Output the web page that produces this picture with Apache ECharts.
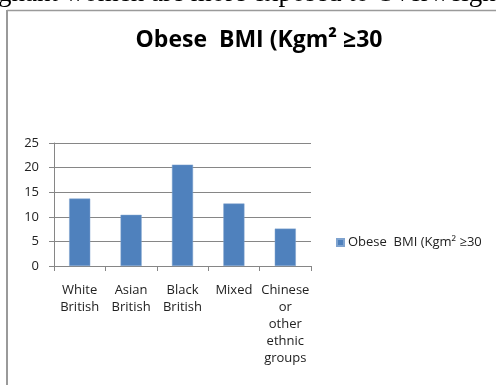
<!DOCTYPE html>
<html>
<head>
<meta charset="utf-8">
<script src="https://cdn.jsdelivr.net/npm/echarts@6/dist/echarts.min.js"></script>
<style>
  html, body { margin: 0; padding: 0; background: #fff; }
  #chart { width: 496px; height: 385px; }
</style>
</head>
<body>
<div id="chart"></div>
<script>
// Obesity (BMI >= 30) share by ethnic group
const categories = ['White\nBritish', 'Asian\nBritish', 'Black\nBritish', 'Mixed', 'Chinese\nor\nother\nethnic\ngroups'];
const obeseValues = [13.7, 10.4, 20.6, 12.7, 7.6];
const seriesName = 'Obese  BMI (Kgm\u00B2 \u226530';
const yTicks = { min: 0, max: 25, interval: 5 };

const font = '"Open Sans", "Liberation Sans", sans-serif';
const chart = echarts.init(document.getElementById('chart'), null, { renderer: 'canvas' });

chart.setOption({
  animation: false,
  backgroundColor: '#ffffff',
  legend: {
    data: [seriesName],
    left: 331,
    top: 231,
    icon: 'rect',
    itemWidth: 7,
    itemHeight: 7,
    itemGap: 5,
    textStyle: { fontFamily: font, fontSize: 13, color: '#222', padding: [0, 0, 0, -1] }
  },
  grid: { left: 54, right: 185, top: 143, bottom: 119, containLabel: false },
  xAxis: {
    type: 'category',
    data: categories,
    axisLine: { lineStyle: { color: '#868686', width: 1 } },
    axisTick: { show: true, length: 5, alignWithLabel: false, lineStyle: { color: '#868686' } },
    axisLabel: { fontFamily: font, fontSize: 13, color: '#222', margin: 16, lineHeight: 17, interval: 0 }
  },
  yAxis: {
    type: 'value',
    min: yTicks.min,
    max: yTicks.max,
    interval: yTicks.interval,
    axisLine: { show: true, lineStyle: { color: '#868686' } },
    axisTick: { show: true, inside: false, length: 5, lineStyle: { color: '#868686' } },
    axisLabel: { fontFamily: font, fontSize: 13, color: '#222', margin: 15 },
    splitLine: { lineStyle: { color: '#868686', width: 1 } }
  },
  series: [{
    name: seriesName,
    type: 'bar',
    data: obeseValues,
    barWidth: '41%',
    itemStyle: { color: '#4F81BD', borderColor: '#7fa3cf', borderWidth: 0.5 }
  }],
  graphic: [
    {
      // chart heading
      type: 'text',
      x: 259,
      y: 40,
      style: {
        text: seriesName,
        font: 'bold 23px "Open Sans", sans-serif',
        fill: '#000',
        textAlign: 'center',
        textVerticalAlign: 'middle'
      },
      silent: true
    },
    {
      // running text of the surrounding page, above the chart frame
      type: 'text',
      x: -2,
      y: -20,
      style: { text: 'gnant women are more exposed to Overweight', font: '27px "Liberation Serif", serif', fill: '#000' },
      silent: true
    },
    {
      type: 'line',
      shape: { x1: 7, y1: 10.5, x2: 496, y2: 10.5 },
      style: { stroke: '#9a9a9a', lineWidth: 1.5 },
      silent: true
    },
    {
      type: 'line',
      shape: { x1: 7, y1: 10, x2: 7, y2: 385 },
      style: { stroke: '#9a9a9a', lineWidth: 2 },
      silent: true
    }
  ]
});
</script>
</body>
</html>
